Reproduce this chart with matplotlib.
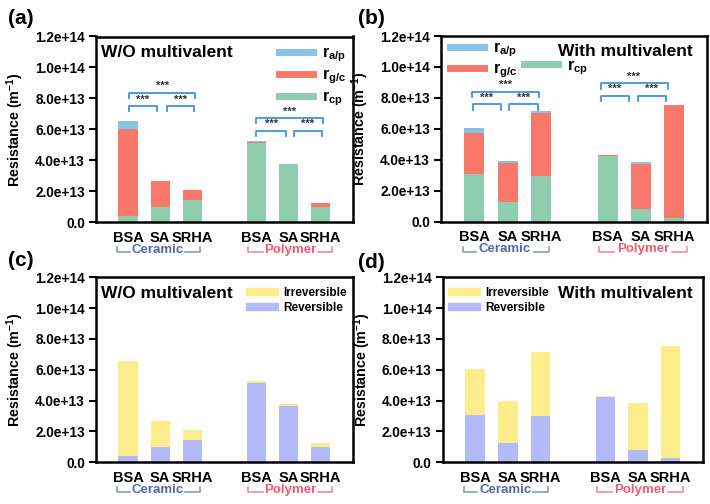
import numpy as np
import matplotlib
matplotlib.use("Agg")
import matplotlib.pyplot as plt
from matplotlib.lines import Line2D
from matplotlib.ticker import FuncFormatter

plt.rcParams['font.family'] = ['Liberation Sans', 'DejaVu Sans']
plt.rcParams['font.weight'] = 'bold'
plt.rcParams['mathtext.fontset'] = 'custom'
plt.rcParams['mathtext.bf'] = 'Liberation Sans:bold'
plt.rcParams['mathtext.rm'] = 'Liberation Sans:bold'
plt.rcParams['mathtext.it'] = 'Liberation Sans:bold'

# foulants on each membrane, values in 1e13 m^-1
categories = ["BSA", "SA", "SRHA", "BSA", "SA", "SRHA"]
groups = ["Ceramic", "Polymer"]

# W/O multivalent
wo_rcp = [0.38, 1.00, 1.46, 5.15, 3.68, 1.00]
wo_rgc = [5.65, 1.65, 0.63, 0.03, 0.05, 0.25]
wo_rap = [0.52, 0.03, 0.01, 0.07, 0.02, 0.00]

# With multivalent
w_rcp = [3.07, 1.26, 2.98, 4.25, 0.80, 0.27]
w_rgc = [2.66, 2.56, 4.02, 0.06, 2.96, 7.25]
w_rap = [0.32, 0.13, 0.13, 0.02, 0.10, 0.01]

SCALE = 1e13
xpos = np.array([1, 2, 3, 5, 6, 7])

c_ap = "#87c4e6"
c_gc = "#fa7869"
c_cp = "#8fcdaf"
c_irr = "#fdec8c"
c_rev = "#b2bafa"
c_sig = "#3c93e6"

W, H = 710, 504
fig = plt.figure(figsize=(W / 100, H / 100), dpi=100)


def make_ax(l, r, b, t):
    return fig.add_axes([l / W, 1 - b / H, (r - l) / W, (b - t) / H])


ax_a = make_ax(96, 352.7, 222.3, 36.5)
ax_b = make_ax(441, 707.5, 221.7, 36)
ax_c = make_ax(96, 352.7, 462.3, 277.3)
ax_d = make_ax(442.7, 703, 462.3, 277.3)


def fmt(v, pos):
    if v == 0:
        return "0.0"
    return "%.1e" % v


def style(ax):
    ax.set_xlim(0, 8)
    ax.set_ylim(0, 1.2e14)
    ax.set_yticks(np.arange(0, 1.21e14, 2e13))
    ax.yaxis.set_major_formatter(FuncFormatter(fmt))
    ax.set_xticks(xpos)
    ax.set_xticklabels(categories, fontsize=10.5, fontweight='bold')
    ax.tick_params(axis='x', length=0, pad=6)
    ax.tick_params(axis='y', length=5, width=1.5, labelsize=9.8, direction='out', pad=3)
    for s in ax.spines.values():
        s.set_linewidth(1.8)
    ax.set_ylabel("Resistance (m$^{-1}$)", fontsize=10.3, fontweight='bold')
    w = ax.get_position().width * W
    ax.yaxis.set_label_coords(-70 / w, 0.5)
    # group labels with small brackets under the tick labels
    tr = ax.get_xaxis_transform()
    for name, lo, t0, t1, hi, cx, tc, lc in [
            ("Ceramic", 0.66, 1.06, 2.78, 3.25, 1.92, "#5468a8", "#8e9ac4"),
            ("Polymer", 4.75, 5.19, 6.93, 7.37, 6.06, "#f25a72", "#f58a9a")]:
        yl, yt = -0.162, -0.135
        ax.add_line(Line2D([lo, lo, t0], [yt, yl, yl], transform=tr, color=lc, lw=1.2, clip_on=False))
        ax.add_line(Line2D([t1, hi, hi], [yl, yl, yt], transform=tr, color=lc, lw=1.2, clip_on=False))
        ax.text(cx, -0.148, name, transform=tr, color=tc, fontsize=9.5,
                ha='center', va='center', fontweight='bold')


def bracket(ax, x1, x2, y, text):
    h = 0.35e13
    ax.plot([x1, x1, x2, x2], [y - h, y, y, y - h], color=c_sig, lw=1.3)
    ax.text((x1 + x2) / 2, y + 0.1e13, text, ha='center', va='bottom', fontsize=8, color='#333333')


def stacked(ax, rcp, rgc, rap):
    rcp = np.array(rcp) * SCALE
    rgc = np.array(rgc) * SCALE
    rap = np.array(rap) * SCALE
    ax.bar(xpos, rcp, 0.6, color=c_cp)
    ax.bar(xpos, rgc, 0.6, bottom=rcp, color=c_gc)
    ax.bar(xpos, rap, 0.6, bottom=rcp + rgc, color=c_ap)


def revirr(ax, rcp, rgc, rap):
    rev = np.array(rcp) * SCALE
    irr = (np.array(rgc) + np.array(rap)) * SCALE
    ax.bar(xpos, rev, 0.6, color=c_rev)
    ax.bar(xpos, irr, 0.6, bottom=rev, color=c_irr)


# (a)
stacked(ax_a, wo_rcp, wo_rgc, wo_rap)
style(ax_a)
ax_a.text(0.02, 0.915, "W/O multivalent", transform=ax_a.transAxes, fontsize=12.5,
          fontweight='bold', va='center')
hs = [Line2D([], [], color=c, lw=5) for c in (c_ap, c_gc, c_cp)]
ax_a.legend(hs, ["r$_{a/p}$", "r$_{g/c}$", "r$_{cp}$"], loc='upper right',
            bbox_to_anchor=(0.975, 0.95), frameon=False, fontsize=11.5,
            borderaxespad=0, borderpad=0,
            labelspacing=0.2, handlelength=2.1, handletextpad=0.6)
bracket(ax_a, 1.03, 3.1, 8.36e13, "***")
bracket(ax_a, 1.03, 1.9, 7.51e13, "***")
bracket(ax_a, 2.2, 3.06, 7.51e13, "***")
bracket(ax_a, 5.0, 7.08, 6.74e13, "***")
bracket(ax_a, 5.0, 5.92, 5.92e13, "***")
bracket(ax_a, 6.17, 7.03, 5.92e13, "***")

# (b)
stacked(ax_b, w_rcp, w_rgc, w_rap)
style(ax_b)
ax_b.text(0.946, 0.915, "With multivalent", transform=ax_b.transAxes, fontsize=12.5,
          fontweight='bold', va='center', ha='right')
hb = [Line2D([], [], color=c_ap, lw=5), Line2D([], [], color=c_gc, lw=5),
      Line2D([], [], color='none'), Line2D([], [], color=c_cp, lw=5)]
ax_b.legend(hb, ["r$_{a/p}$", "r$_{g/c}$", "", "r$_{cp}$"], loc='upper left',
            bbox_to_anchor=(0.035, 0.975), frameon=False, fontsize=11.5, ncol=2,
            borderaxespad=0, borderpad=0,
            labelspacing=0.15, handlelength=2.1, handletextpad=0.6, columnspacing=0.4)
bracket(ax_b, 0.92, 2.94, 8.4e13, "***")
bracket(ax_b, 0.95, 1.79, 7.6e13, "***")
bracket(ax_b, 2.05, 2.9, 7.6e13, "***")
bracket(ax_b, 4.79, 6.8, 8.95e13, "***")
bracket(ax_b, 4.8, 5.65, 8.14e13, "***")
bracket(ax_b, 5.9, 6.75, 8.14e13, "***")

# (c)
revirr(ax_c, wo_rcp, wo_rgc, wo_rap)
style(ax_c)
ax_c.text(0.02, 0.915, "W/O multivalent", transform=ax_c.transAxes, fontsize=12.5,
          fontweight='bold', va='center')
hc = [Line2D([], [], color=c_irr, lw=6), Line2D([], [], color=c_rev, lw=6)]
ax_c.legend(hc, ["Irreversible", "Reversible"], loc='upper right',
            bbox_to_anchor=(0.978, 0.947), frameon=False, fontsize=8.5,
            borderaxespad=0, borderpad=0,
            labelspacing=0.25, handlelength=2.1, handletextpad=0.7)

# (d)
revirr(ax_d, w_rcp, w_rgc, w_rap)
style(ax_d)
ax_d.text(0.962, 0.915, "With multivalent", transform=ax_d.transAxes, fontsize=12.5,
          fontweight='bold', va='center', ha='right')
ax_d.legend(hc, ["Irreversible", "Reversible"], loc='upper left',
            bbox_to_anchor=(0.036, 0.947), frameon=False, fontsize=8.5,
            borderaxespad=0, borderpad=0,
            labelspacing=0.25, handlelength=2.1, handletextpad=0.7)

for lab, x, y in [("(a)", 8, 18), ("(b)", 358, 18), ("(c)", 8, 261), ("(d)", 358, 262)]:
    fig.text(x / W, 1 - y / H, lab, fontsize=15, fontweight='bold', va='center', ha='left')

fig.savefig("out.png", dpi=100)
